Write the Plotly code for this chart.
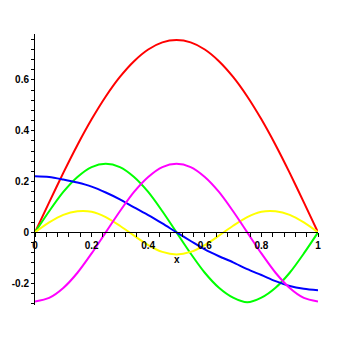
import plotly.graph_objects as go

# Sample positions along x
x_vals = [0.0, 0.05, 0.1, 0.15, 0.2, 0.25, 0.3, 0.35, 0.4, 0.45, 0.5,
          0.55, 0.6, 0.65, 0.7, 0.75, 0.8, 0.85, 0.9, 0.95, 1.0]

red_vals = [0.0, 0.118, 0.234, 0.344, 0.445, 0.535, 0.612, 0.674, 0.72, 0.748, 0.757,
            0.748, 0.72, 0.674, 0.612, 0.535, 0.445, 0.344, 0.234, 0.118, 0.0]

green_vals = [0.0, 0.083, 0.159, 0.218, 0.257, 0.27, 0.257, 0.218, 0.159, 0.083, 0.0,
              -0.083, -0.159, -0.218, -0.257, -0.275, -0.257, -0.218, -0.159, -0.083, 0.0]

magenta_vals = [-0.272, -0.258, -0.219, -0.159, -0.083, 0.0, 0.083, 0.159, 0.218, 0.257, 0.27,
                0.257, 0.218, 0.159, 0.083, 0.0, -0.083, -0.159, -0.219, -0.258, -0.272]

yellow_vals = [0.0, 0.039, 0.069, 0.083, 0.081, 0.06, 0.026, -0.013, -0.05, -0.077, -0.087,
               -0.077, -0.05, -0.013, 0.026, 0.06, 0.081, 0.083, 0.069, 0.039, 0.0]

blue_vals = [0.221, 0.218, 0.208, 0.196, 0.18, 0.157, 0.13, 0.098, 0.068, 0.035, 0.0,
             -0.034, -0.067, -0.094, -0.118, -0.145, -0.168, -0.192, -0.211, -0.222, -0.228]

x_ticks = [0, 0.2, 0.4, 0.6, 0.8, 1]
x_labels = ["0", "0.2", "0.4", "0.6", "0.8", "1"]
y_ticks = [-0.2, 0, 0.2, 0.4, 0.6]
y_labels = ["-0.2", "0", "0.2", "0.4", "0.6"]

x_range = [0, 1]
y_range = [-0.286, 0.781]

series = [
    (red_vals, "#ff0000"),
    (green_vals, "#00ff00"),
    (yellow_vals, "#ffff00"),
    (blue_vals, "#0000ff"),
    (magenta_vals, "#ff00ff"),
]

fig = go.Figure()
for vals, color in series:
    fig.add_trace(go.Scatter(
        x=x_vals, y=vals, mode="lines",
        line=dict(color=color, width=2, shape="spline", smoothing=0.8),
        showlegend=False, hoverinfo="skip",
    ))

tick_font = dict(family="Liberation Sans", size=10, color="black", weight=700)

# horizontal axis crosses the vertical one at y = 0
x_axis_pos = (0 - y_range[0]) / (y_range[1] - y_range[0])

fig.update_layout(
    width=355, height=343,
    margin=dict(l=35, r=37, t=34, b=38),
    plot_bgcolor="white", paper_bgcolor="white",
    xaxis=dict(
        range=x_range, anchor="free", position=x_axis_pos,
        showgrid=False, zeroline=False,
        showline=True, linecolor="black", linewidth=1,
        tickvals=x_ticks, ticktext=x_labels,
        ticks="outside", ticklen=4, tickcolor="black", tickwidth=1,
        minor=dict(dtick=0.04, tick0=0, ticks="outside", ticklen=4,
                   tickcolor="black", tickwidth=1, showgrid=False),
        tickfont=tick_font,
    ),
    yaxis=dict(
        range=y_range,
        showgrid=False, zeroline=False,
        showline=True, linecolor="black", linewidth=1,
        tickvals=y_ticks, ticktext=y_labels,
        ticks="outside", ticklen=3, tickcolor="black", tickwidth=1,
        minor=dict(dtick=0.04, tick0=0, ticks="outside", ticklen=3,
                   tickcolor="black", tickwidth=1, showgrid=False),
        tickfont=tick_font,
    ),
    annotations=[dict(
        text="x", x=0.5, y=-0.105, xref="x", yref="y",
        showarrow=False, font=tick_font,
    )],
)

fig.write_html("out.html")
